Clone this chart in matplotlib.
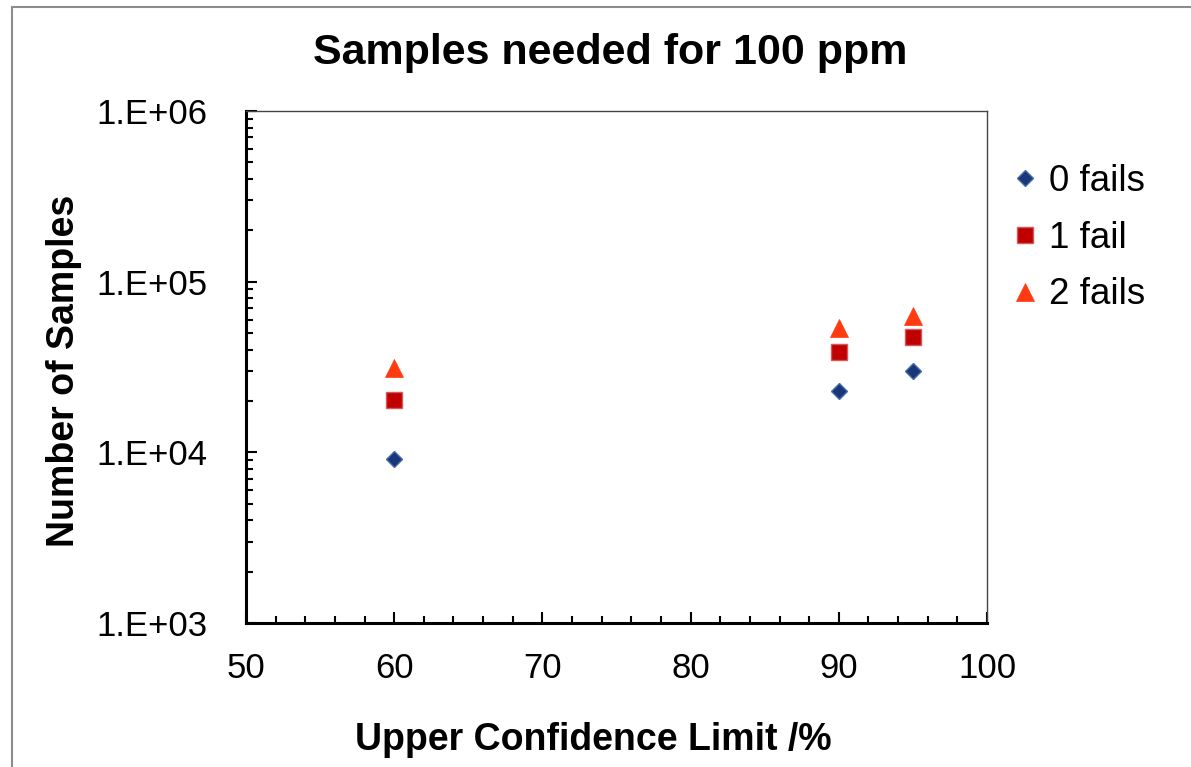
import matplotlib
matplotlib.use("Agg")
import matplotlib.pyplot as plt
from matplotlib.patches import Rectangle
from matplotlib.ticker import MultipleLocator, LogLocator, FixedLocator, FixedFormatter, NullFormatter

# data
confidence = [60, 90, 95]
fails_0 = [9160, 23000, 30000]
fails_1 = [20200, 38900, 47400]
fails_2 = [31000, 53200, 63000]
series_labels = ["0 fails", "1 fail", "2 fails"]
y_ticks = [1e3, 1e4, 1e5, 1e6]
y_tick_labels = ["1.E+03", "1.E+04", "1.E+05", "1.E+06"]

plt.rcParams['font.family'] = ['Liberation Sans', 'DejaVu Sans']

fig = plt.figure(figsize=(11.91, 7.67), dpi=100)
ax = fig.add_axes([246/1191, 1-623/767, (987-246)/1191, (623-111)/767])

# outer chart frame
fig.patches.append(Rectangle((12/1191, -0.1), 1.2, 1.1 - 7/767, transform=fig.transFigure,
                             fill=False, edgecolor='#8c8c8c', lw=1.5))

ax.plot(confidence, fails_0, linestyle='none', marker='D', ms=8.3,
        mfc='#17377a', mec='#4a6ca8', mew=1, label=series_labels[0])
ax.plot(confidence, fails_1, linestyle='none', marker='s', ms=12,
        mfc='#c00000', mec='#d45a5a', mew=1, label=series_labels[1])
ax.plot(confidence, fails_2, linestyle='none', marker='^', ms=13,
        mfc='#ff3a10', mec='#ff3a10', mew=0.5, label=series_labels[2])

ax.set_yscale('log')
ax.set_xlim(50, 100)
ax.set_ylim(1e3, 1e6)

ax.xaxis.set_major_locator(MultipleLocator(10))
ax.xaxis.set_minor_locator(MultipleLocator(2))
ax.yaxis.set_major_locator(FixedLocator(y_ticks))
ax.yaxis.set_major_formatter(FixedFormatter(y_tick_labels))
ax.yaxis.set_minor_locator(LogLocator(base=10, subs=range(2, 10)))
ax.yaxis.set_minor_formatter(NullFormatter())

ax.tick_params(which='both', direction='in', top=False, right=False, width=1.5, color='black')
ax.tick_params(which='major', length=8)
ax.tick_params(which='minor', length=5)
ax.tick_params(axis='x', which='major', labelsize=25, pad=21)
ax.tick_params(axis='y', which='major', labelsize=25, pad=28)

for s in ['left', 'bottom']:
    ax.spines[s].set_linewidth(2.2)
    ax.spines[s].set_color('black')
for s in ['top', 'right']:
    ax.spines[s].set_linewidth(1.0)
    ax.spines[s].set_color('#444444')

fig.text(610/1191, 1-64/767, "Samples needed for 100 ppm", ha='center', va='baseline',
         fontsize=31, fontweight='bold')
fig.text(593/1191, 1-750/767, "Upper Confidence Limit /%", ha='center', va='baseline',
         fontsize=27, fontweight='bold')
fig.text(64/1191, 1-371/767, "Number of Samples", ha='center', va='center', rotation=90,
         fontsize=27, fontweight='bold')

ax.legend(loc='upper left', bbox_to_anchor=(1014/1191, 1-164/767), bbox_transform=fig.transFigure,
          frameon=False, fontsize=26.5, handlelength=0.6, handletextpad=0.35,
          labelspacing=0.59, borderpad=0, borderaxespad=0)

fig.savefig("out.png", dpi=100)
